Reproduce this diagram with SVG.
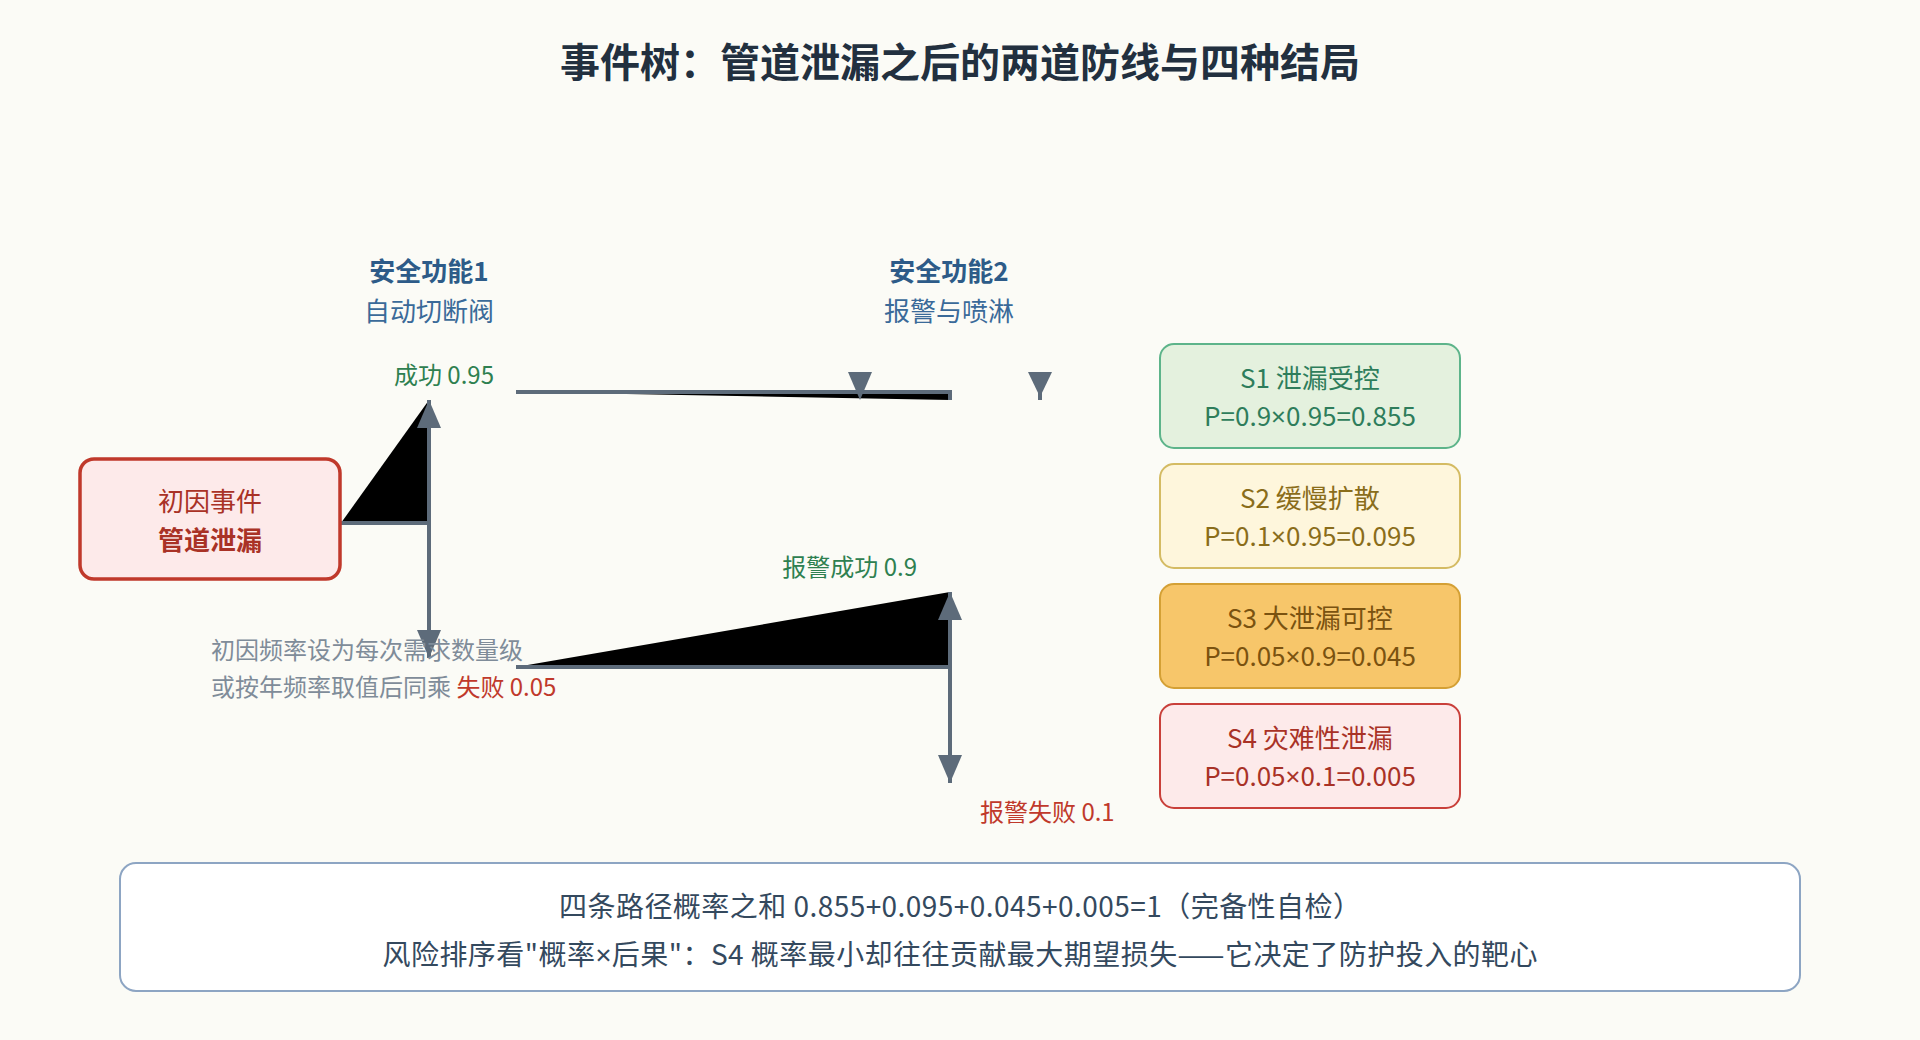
<svg xmlns="http://www.w3.org/2000/svg" width="1920" height="1040" viewBox="0 0 1920 1040">
  <style>
    text { font-family: "Noto Sans CJK SC", "Noto Sans", sans-serif; }
    .x { font-family: "Noto Sans", "Open Sans", sans-serif; }
    .title { font-size: 40px; font-weight: 700; fill: #22303f; text-anchor: middle; }
    .fh { font-size: 26px; font-weight: 700; fill: #2d5b88; text-anchor: middle; }
    .fs { font-size: 26px; fill: #3a6a99; text-anchor: middle; }
    .ok { font-size: 24px; fill: #2e8050; }
    .bad { font-size: 24px; fill: #c0392b; }
    .note { font-size: 24px; fill: #7f8c99; }
    .conn { stroke: #5d6b7a; stroke-width: 4; fill: #000; }
    .line { stroke: #5d6b7a; stroke-width: 4; fill: none; }
    .arrow { fill: #5d6b7a; }
    .ob { stroke-width: 2; }
    .ot { font-size: 26px; text-anchor: middle; }
    .sum { font-size: 28px; fill: #34495e; text-anchor: middle; }
  </style>
  <defs>
    <marker id="arr" viewBox="0 0 28 24" refX="28" refY="12" markerWidth="28" markerHeight="24" markerUnits="userSpaceOnUse" orient="auto">
      <path d="M0,0 L28,12 L0,24 z" fill="#5d6b7a"/>
    </marker>
  </defs>
  <rect x="0" y="0" width="1920" height="1040" fill="#fbfbf6"/>

  <text class="title" x="960" y="77">事件树：管道泄漏之后的两道防线与四种结局</text>

  <g id="sf1-header">
    <text class="fh" x="429" y="281">安全功能1</text>
    <text class="fs" x="429" y="321">自动切断阀</text>
  </g>
  <g id="sf2-header">
    <text class="fh" x="949" y="281">安全功能2</text>
    <text class="fs" x="949" y="321">报警与喷淋</text>
  </g>

  <g id="connectors">
    <path class="conn" d="M341,523 H429 V400" marker-end="url(#arr)"/>
    <path class="line" d="M429,523 V658" marker-end="url(#arr)"/>
    <path class="conn" d="M516,392 H950 V400"/>
    <polygon class="arrow" points="848,372 872,372 860,400"/>
    <line x1="1040" y1="390" x2="1040" y2="400" stroke="#5d6b7a" stroke-width="4"/>
    <polygon class="arrow" points="1028,372 1052,372 1040,397"/>
    <path class="conn" d="M516,667 H950 V592" marker-end="url(#arr)"/>
    <path class="line" d="M950,667 V783" marker-end="url(#arr)"/>
  </g>

  <g id="labels">
    <text class="ok" x="494" y="384" text-anchor="end">成功 0.95</text>
    <text class="ok" x="917" y="576" text-anchor="end">报警成功 0.9</text>
    <text class="bad" x="980" y="821">报警失败 0.1</text>
    <text class="note" x="211" y="659">初因频率设为每次需求数量级</text>
    <text class="note" x="211" y="696">或按年频率取值后同乘 <tspan fill="#c0392b">失败 0.05</tspan></text>
  </g>

  <g id="initiating-event">
    <rect x="80" y="459" width="260" height="120" rx="14" fill="#fdeaea" stroke="#c0392b" stroke-width="3.5"/>
    <text x="210" y="511" font-size="26" fill="#a93226" text-anchor="middle">初因事件</text>
    <text x="210" y="550" font-size="26" font-weight="700" fill="#a93226" text-anchor="middle">管道泄漏</text>
  </g>

  <g id="s1">
    <rect class="ob" x="1160" y="344" width="300" height="104" rx="14" fill="#e4f1de" stroke="#5db48a"/>
    <text class="ot" x="1310" y="388" fill="#2e7d5b">S1 泄漏受控</text>
    <text class="ot" x="1310" y="426" fill="#2e7d5b">P=0.9<tspan class="x">×</tspan>0.95=0.855</text>
  </g>
  <g id="s2">
    <rect class="ob" x="1160" y="464" width="300" height="104" rx="14" fill="#fef6dc" stroke="#d4bb63"/>
    <text class="ot" x="1310" y="508" fill="#8a6d1a">S2 缓慢扩散</text>
    <text class="ot" x="1310" y="546" fill="#8a6d1a">P=0.1<tspan class="x">×</tspan>0.95=0.095</text>
  </g>
  <g id="s3">
    <rect class="ob" x="1160" y="584" width="300" height="104" rx="14" fill="#f7c66a" stroke="#d4a035"/>
    <text class="ot" x="1310" y="628" fill="#7a5210">S3 大泄漏可控</text>
    <text class="ot" x="1310" y="666" fill="#7a5210">P=0.05<tspan class="x">×</tspan>0.9=0.045</text>
  </g>
  <g id="s4">
    <rect class="ob" x="1160" y="704" width="300" height="104" rx="14" fill="#fdeaea" stroke="#c9403a"/>
    <text class="ot" x="1310" y="748" fill="#a93226">S4 灾难性泄漏</text>
    <text class="ot" x="1310" y="786" fill="#a93226">P=0.05<tspan class="x">×</tspan>0.1=0.005</text>
  </g>

  <g id="summary">
    <rect x="120" y="863" width="1680" height="128" rx="16" fill="#ffffff" stroke="#8da5c3" stroke-width="2"/>
    <text class="sum" x="960" y="917" textLength="802" lengthAdjust="spacing">四条路径概率之和 0.855+0.095+0.045+0.005=1（完备性自检）</text>
    <text class="sum" x="960" y="965" textLength="1155" lengthAdjust="spacing">风险排序看"概率<tspan class="x">×</tspan>后果"：S4 概率最小却往往贡献最大期望损失——它决定了防护投入的靶心</text>
  </g>
</svg>
